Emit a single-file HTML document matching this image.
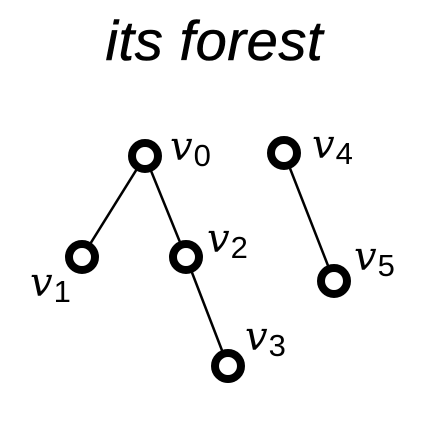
<!DOCTYPE html>
<html><head><meta charset="utf-8"><style>
html,body{margin:0;padding:0;background:#fff;width:440px;height:427px;overflow:hidden}
svg text{fill:#000}
</style></head><body>
<svg width="440" height="427" viewBox="0 0 440 427">
<text x="214" y="60" text-anchor="middle" font-family="Liberation Sans, sans-serif" font-style="italic" font-size="56" stroke="#000" stroke-width="0.6" textLength="217">its forest</text>
<g id="edges"></g>
<g id="nodes"></g>
<g id="labels"></g>
</svg>
<script>
var nodeNames = ["v0","v1","v2","v3","v4","v5"];
var nodeX = [145, 82, 186, 228, 284, 334];
var nodeY = [156, 257, 257, 366, 153, 281];
var edgeFrom = [0, 0, 2, 4];
var edgeTo = [1, 2, 3, 5];
var labelX = [170, 30, 207, 245, 312, 354];
var labelY = [160, 296, 252, 350, 158, 270];
var NS = "http://www.w3.org/2000/svg";
var eg = document.getElementById("edges"), ng = document.getElementById("nodes"), lg = document.getElementById("labels");
for (var i = 0; i < edgeFrom.length; i++) {
  var l = document.createElementNS(NS, "line");
  l.setAttribute("x1", nodeX[edgeFrom[i]]); l.setAttribute("y1", nodeY[edgeFrom[i]]);
  l.setAttribute("x2", nodeX[edgeTo[i]]); l.setAttribute("y2", nodeY[edgeTo[i]]);
  l.setAttribute("stroke", "#000"); l.setAttribute("stroke-width", "2.5");
  
  
  eg.appendChild(l);
}
for (var j = 0; j < nodeNames.length; j++) {
  var c = document.createElementNS(NS, "circle");
  c.setAttribute("cx", nodeX[j]); c.setAttribute("cy", nodeY[j]); c.setAttribute("r", "13");
  c.setAttribute("fill", "#fff"); c.setAttribute("stroke", "#000"); c.setAttribute("stroke-width", "8");
  
  
  ng.appendChild(c);
  var t = document.createElementNS(NS, "text");
  t.setAttribute("x", labelX[j]); t.setAttribute("y", labelY[j]);
  t.setAttribute("font-family", "DejaVu Serif, serif");
  var v = document.createElementNS(NS, "tspan");
  v.setAttribute("font-style", "italic"); v.setAttribute("font-size", "40");
  v.textContent = "v";
  var s = document.createElementNS(NS, "tspan");
  s.setAttribute("font-family", "Liberation Sans, sans-serif");
  s.setAttribute("font-size", "31"); s.setAttribute("dy", "6"); s.setAttribute("dx", "1");
  s.textContent = nodeNames[j].slice(1);
  t.appendChild(v); t.appendChild(s);
  
  
  lg.appendChild(t);
}
</script>
</body></html>
